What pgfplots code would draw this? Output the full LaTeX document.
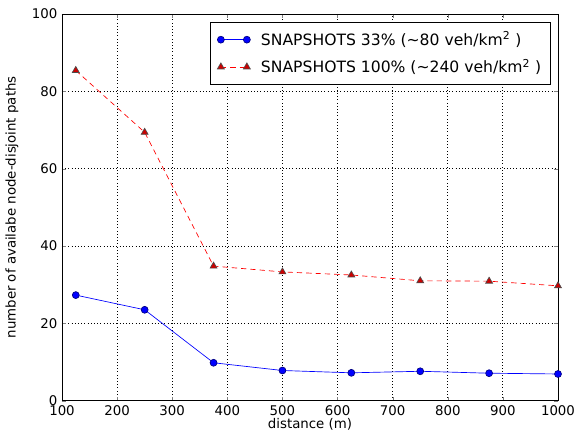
\documentclass[border=0pt]{standalone}
\usepackage{fontspec}
\setmainfont{DejaVu Sans}
\usepackage{pgfplots}
\pgfplotsset{compat=1.18}
\begin{document}
\begin{tikzpicture}
\begin{axis}[
width=372pt, height=290pt,
scale only axis,
xmin=100, xmax=1000,
ymin=0, ymax=100,
xtick={100,200,...,1000},
ytick={0,20,...,100},
/pgf/number format/assume math mode=true,
/pgf/number format/set thousands separator={},
tick label style={font=\fontsize{10}{12}\selectfont},
label style={font=\fontsize{10}{12}\selectfont},
xlabel={distance (m)},
ylabel={number of availabe node-disjoint paths},
xlabel style={at={(axis description cs:0.5,0)}, anchor=center, yshift=-17.5pt},
ylabel style={at={(axis description cs:-0.1008,0.5)}, anchor=center},
grid=major,
major grid style={black, dotted, line width=0.6pt},
tick align=inside,
major tick length=3pt,
axis line style={line width=0.6pt},
legend style={at={(1,1)}, xshift=-5.25pt, yshift=-6pt, anchor=north east,
  font=\fontsize{11.7}{14}\selectfont,
  draw=black, line width=0.6pt, inner xsep=5pt, inner ysep=5pt, row sep=4.5pt,
  nodes={inner sep=2pt},
  /tikz/every odd column/.append style={column sep=6pt}},
legend cell align=left,
legend image code/.code={\draw[mark repeat=2,mark phase=1,#1] plot coordinates {(0pt,0pt) (9.75pt,0pt) (19.5pt,0pt)};},
]
\addplot[color=blue, line width=0.5pt, mark=*, mark size=2.6pt, mark options={solid, fill=blue, draw=blue!50!black}]
coordinates {
(125,27.3)(250,23.5)(375,9.8)(500,7.8)(625,7.2)(750,7.6)(875,7.1)(1000,6.9)
};
\addlegendentry{SNAPSHOTS 33\% (\textasciitilde80 veh/km\textsuperscript{2} )}
\addplot[color=red, line width=0.5pt, dash pattern=on 4pt off 3pt, mark=triangle*, mark size=3pt, mark options={solid, fill=red!80!black, draw=black!70}]
coordinates {
(125,85.4)(250,69.4)(375,34.8)(500,33.3)(625,32.5)(750,31.0)(875,30.9)(1000,29.7)
};
\addlegendentry{SNAPSHOTS 100\% (\textasciitilde240 veh/km\textsuperscript{2} )}
\end{axis}
\path ([xshift=-46.5pt,yshift=-24pt]current axis.south west) rectangle ([xshift=18pt,yshift=10.5pt]current axis.north east);
\end{tikzpicture}
\end{document}
